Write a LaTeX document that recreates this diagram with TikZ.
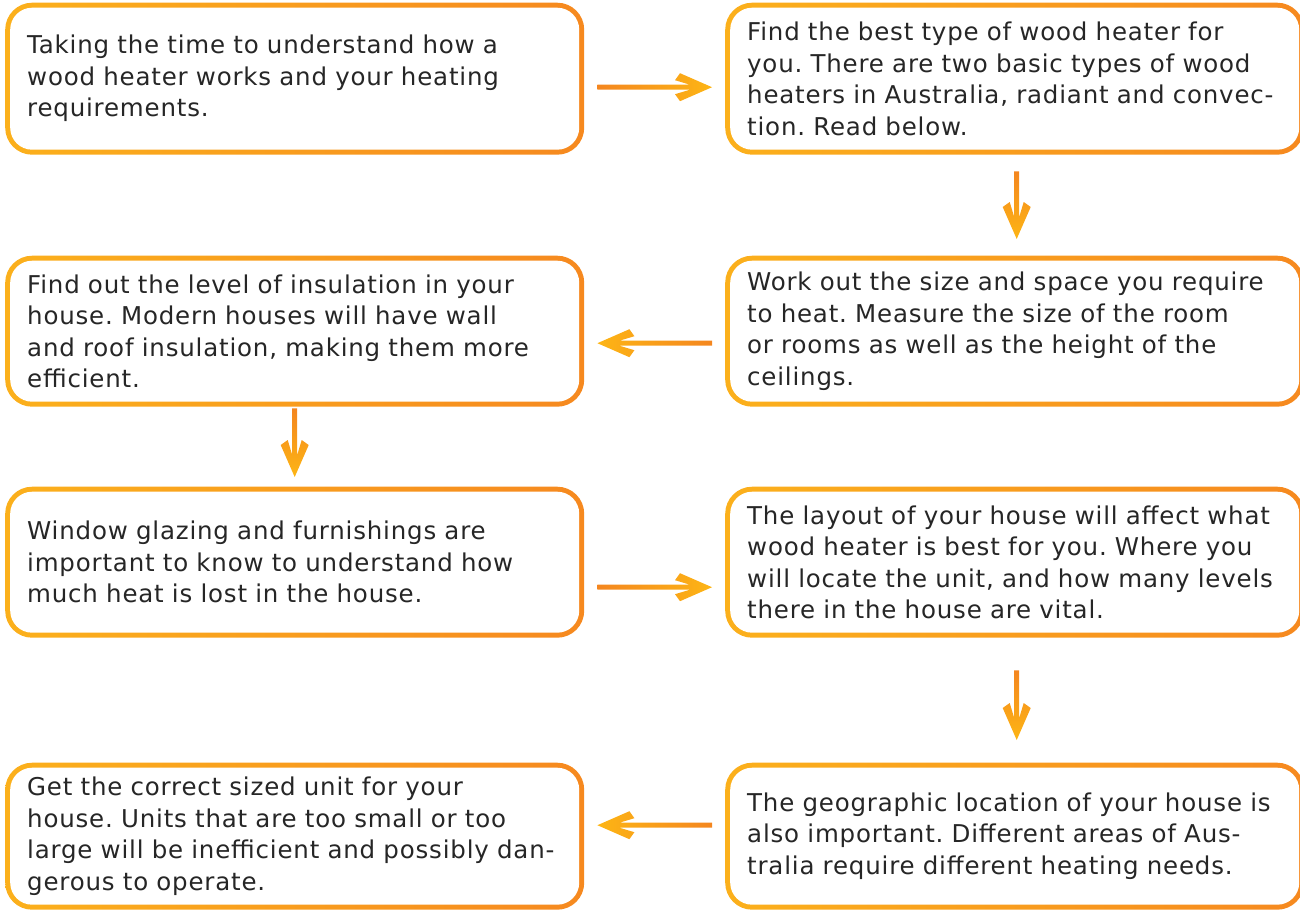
\documentclass[tikz,border=0pt]{standalone}
\usepackage{fontspec}
\setmainfont[LetterSpace=3.3]{DejaVu Sans}
\usetikzlibrary{calc}
\definecolor{boxL}{HTML}{FBB01C}
\definecolor{boxR}{HTML}{F6891F}
\definecolor{arrA}{HTML}{F4861F}
\definecolor{arrB}{HTML}{FDB515}
\definecolor{ink}{HTML}{262626}
% right-pointing arrow: #1 tail, #2 tip
\newcommand\arrowR[2]{%
 \path[left color=arrA, right color=arrB] ($(#1)+(0,-2.5)$) -- ($(#2)+(-22,-2.5)$) -- ($(#2)+(-37,-7)$) -- ($(#2)+(-32,-14)$) -- (#2) -- ($(#2)+(-32,14)$) -- ($(#2)+(-37,7)$) -- ($(#2)+(-22,2.5)$) -- ($(#1)+(0,2.5)$) -- cycle;}
\newcommand\arrowL[2]{%
 \path[left color=arrB, right color=arrA] ($(#1)+(0,-2.5)$) -- ($(#2)+(22,-2.5)$) -- ($(#2)+(37,-7)$) -- ($(#2)+(32,-14)$) -- (#2) -- ($(#2)+(32,14)$) -- ($(#2)+(37,7)$) -- ($(#2)+(22,2.5)$) -- ($(#1)+(0,2.5)$) -- cycle;}
\newcommand\arrowD[2]{%
 \path[top color=arrA, bottom color=arrB] ($(#1)+(-2.5,0)$) -- ($(#2)+(-2.5,-22)$) -- ($(#2)+(-7,-37)$) -- ($(#2)+(-14,-32)$) -- (#2) -- ($(#2)+(14,-32)$) -- ($(#2)+(7,-37)$) -- ($(#2)+(2.5,-22)$) -- ($(#1)+(2.5,0)$) -- cycle;}
\begin{document}
\frenchspacing
\begin{tikzpicture}[x=1pt, y=-1pt,
  box/.style={minimum width=579pt, minimum height=151pt, inner sep=0pt, anchor=north west,
    rounded corners=27pt, left color=boxL, right color=boxR,
    path picture={\fill[white, rounded corners=22pt]
      ($(path picture bounding box.north west)+(5,5)$) rectangle
      ($(path picture bounding box.south east)+(-5,-5)$);}},
  txt/.style={anchor=west, inner sep=0pt, text width=570pt, align=left, text=ink,
    font=\fontsize{24.5}{31.5}\selectfont\frenchspacing}]
\useasboundingbox (0,0) rectangle (1300,911);
% boxes
\node[box, minimum height=152pt] (b1) at (5,2.5) {};
\node[box, minimum height=152pt] (b2) at (725,2.5) {};
\node[box] (b3) at (5,255.5) {};
\node[box] (b4) at (725,255.5) {};
\node[box] (b5) at (5,486.5) {};
\node[box] (b6) at (725,486.5) {};
\node[box, minimum height=147pt] (b7) at (5,762.5) {};
\node[box, minimum height=147pt] (b8) at (725,762.5) {};
% texts
\node[txt] (t1) at ($(b1.west)+(22,0)$) {Taking the time to understand how a\\wood heater works and your heating\\requirements.};
\node[txt] (t2) at ($(b2.west)+(22,0)$) {Find the best type of wood heater for\\you. There are two basic types of wood\\heaters in Australia, radiant and convec-\\tion. Read below.};
\node[txt] (t3) at ($(b3.west)+(22,0)$) {Find out the level of insulation in your\\house. Modern houses will have wall\\and roof insulation, making them more\\efficient.};
\node[txt] (t4) at ($(b4.west)+(22,0)$) {Work out the size and space you require\\to heat. Measure the size of the room\\or rooms as well as the height of the\\ceilings.};
\node[txt] (t5) at ($(b5.west)+(22,0)$) {Window glazing and furnishings are\\important to know to understand how\\much heat is lost in the house.};
\node[txt] (t6) at ($(b6.west)+(22,0)$) {The layout of your house will affect what\\wood heater is best for you. Where you\\will locate the unit, and how many levels\\there in the house are vital.};
\node[txt] (t7) at ($(b7.west)+(22,0)$) {Get the correct sized unit for your\\house. Units that are too small or too\\large will be inefficient and possibly dan-\\gerous to operate.};
\node[txt] (t8) at ($(b8.west)+(22,0)$) {The geographic location of your house is\\also important. Different areas of Aus-\\tralia require different heating needs.};
% arrow end points
\coordinate (a1s) at ($(b1.east)+(13,8.5)$);
\coordinate (a1e) at ($(b2.west)+(-13,8.5)$);
\coordinate (a2s) at ($(b2.south)+(2,16.5)$);
\coordinate (a2e) at ($(b4.north)+(2,-16.5)$);
\coordinate (a3s) at ($(b4.west)+(-13,12)$);
\coordinate (a3e) at ($(b3.east)+(13,12)$);
\coordinate (a4s) at ($(b3.south)+(0,1.5)$);
\coordinate (a4e) at ($(b5.north)+(0,-9.5)$);
\coordinate (a5s) at ($(b5.east)+(13,25)$);
\coordinate (a5e) at ($(b6.west)+(-13,25)$);
\coordinate (a6s) at ($(b6.south)+(2,32.5)$);
\coordinate (a6e) at ($(b8.north)+(2,-22.5)$);
\coordinate (a7s) at ($(b8.west)+(-13,-11)$);
\coordinate (a7e) at ($(b7.east)+(13,-11)$);
% arrows
\arrowR{a1s}{a1e}
\arrowD{a2s}{a2e}
\arrowL{a3s}{a3e}
\arrowD{a4s}{a4e}
\arrowR{a5s}{a5e}
\arrowD{a6s}{a6e}
\arrowL{a7s}{a7e}
\end{tikzpicture}
\end{document}
